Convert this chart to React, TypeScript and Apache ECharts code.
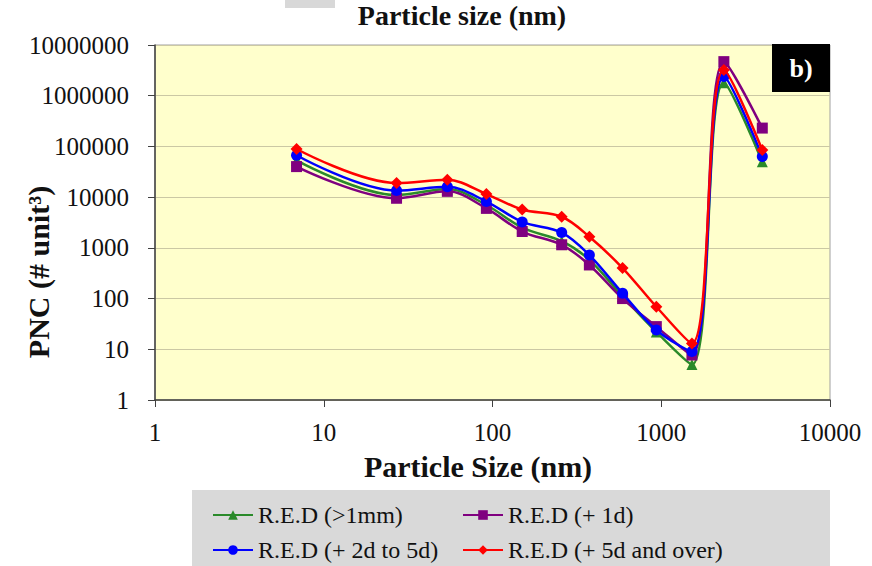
import React, { useEffect, useRef } from "react";
import * as echarts from "echarts";

// Particle size (nm)
const sizes = [6.9, 27, 54, 92, 150, 257, 375, 590, 935, 1520, 2350, 3970];

const seriesNames = [
  "R.E.D (>1mm)",
  "R.E.D (+ 1d)",
  "R.E.D (+ 2d to 5d)",
  "R.E.D (+ 5d and over)",
];

const redGt1mm = [53000, 11000, 14500, 7000, 2500, 1350, 580, 110, 22, 5, 1800000, 50000];
const red1d = [40000, 9500, 13000, 6000, 2100, 1150, 460, 100, 28, 7.7, 4700000, 230000];
const red2to5d = [67000, 13500, 16000, 8200, 3250, 2000, 720, 127, 24, 9, 2400000, 63000];
const red5dOver = [89000, 19000, 22000, 11500, 5700, 4100, 1650, 400, 69, 13, 3200000, 85000];

const seriesValues = [redGt1mm, red1d, red2to5d, red5dOver];
const seriesColors = ["#2a8a2a", "#800080", "#0000ff", "#ff0000"];
const seriesSymbols = ["triangle", "rect", "circle", "diamond"];
const seriesSymbolSizes = [11, 11, 11, 12];

const chartTitle = "Particle size (nm)";
const xTitle = "Particle Size (nm)";
const yTitle = "PNC (# unit³)";
const panelLabel = "b)";

const FONT = "Liberation Serif";

export default function App() {
  const ref = useRef<HTMLDivElement>(null);

  useEffect(() => {
    if (!ref.current) return;
    const chart = echarts.init(ref.current, undefined, { renderer: "svg" });

    const legendPos = [
      { left: 212, top: 503 },
      { left: 462, top: 503 },
      { left: 212, top: 538 },
      { left: 462, top: 538 },
    ];

    const titleText = (text: string, x: number, y: number, size: number, rot = 0, fill = "#111", z = 5) => ({
      type: "text",
      x,
      y,
      rotation: rot,
      z,
      style: {
        text,
        fontFamily: FONT,
        fontSize: size,
        fontWeight: "bold",
        fill,
        align: "center",
        verticalAlign: "middle",
        textAlign: "center",
        textVerticalAlign: "middle",
      },
    });

    const option: any = {
      animation: false,
      backgroundColor: "#ffffff",
      textStyle: { fontFamily: FONT },
      grid: {
        left: 155,
        right: 42,
        top: 45,
        bottom: 166,
        show: true,
        backgroundColor: "#FFFFCC",
        borderColor: "#a0a0a0",
        borderWidth: 1,
      },
      xAxis: {
        type: "log",
        logBase: 10,
        min: 1,
        max: 10000,
        splitNumber: 4,
        axisLine: { show: true, lineStyle: { color: "#404040", width: 1.5 } },
        axisTick: { show: true, inside: false, length: 7, lineStyle: { color: "#404040" } },
        axisLabel: {
          margin: 20,
          fontFamily: FONT,
          fontSize: 25,
          color: "#111",
          formatter: (v: number) => String(Math.round(v)),
        },
        splitLine: { show: false },
        minorTick: { show: false },
      },
      yAxis: {
        type: "log",
        logBase: 10,
        min: 1,
        max: 10000000,
        splitNumber: 7,
        axisLine: { show: true, lineStyle: { color: "#404040", width: 1.5 } },
        axisTick: { show: true, inside: false, length: 7, lineStyle: { color: "#404040" } },
        axisLabel: {
          margin: 26,
          fontFamily: FONT,
          fontSize: 25,
          color: "#111",
          formatter: (v: number) => String(Math.round(v)),
        },
        splitLine: { show: true, lineStyle: { color: "#cbc8a4", width: 1.2 } },
      },
      legend: seriesNames.map((n, i) => ({
        data: [n],
        left: legendPos[i].left,
        top: legendPos[i].top,
        itemWidth: 40,
        itemHeight: 12,
        padding: 0,
        itemGap: 0,
        textStyle: { fontFamily: FONT, fontSize: 24, color: "#111" },
      })),
      series: seriesNames.map((n, i) => ({
        name: n,
        type: "line",
        smooth: 0.35,
        data: sizes.map((x, j) => [x, seriesValues[i][j]]),
        symbol: seriesSymbols[i],
        symbolSize: seriesSymbolSizes[i],
        showSymbol: true,
        lineStyle: { color: seriesColors[i], width: 2.5 },
        itemStyle: { color: seriesColors[i] },
        z: 2 + i,
      })),
      graphic: [
        {
          type: "rect",
          shape: { x: 285, y: 0, width: 50, height: 8 },
          style: { fill: "#d8d8d8" },
          z: 1,
        },
        titleText(chartTitle, 462, 15, 28),
        titleText(xTitle, 478, 466, 30),
        titleText(yTitle, 38, 272, 30, Math.PI / 2),
        {
          type: "rect",
          shape: { x: 772, y: 44, width: 58, height: 48 },
          style: { fill: "#000000" },
          z: 10,
        },
        titleText(panelLabel, 801, 68, 26, 0, "#ffffff", 11),
        {
          type: "rect",
          shape: { x: 192, y: 490, width: 638, height: 80 },
          style: { fill: "#d9d9d9" },
          z: -1,
        },
      ],
    };

    chart.setOption(option);
    return () => chart.dispose();
  }, []);

  return (
    <div
      ref={ref}
      style={{ position: "absolute", left: 0, top: 0, width: 872, height: 566 }}
    />
  );
}
